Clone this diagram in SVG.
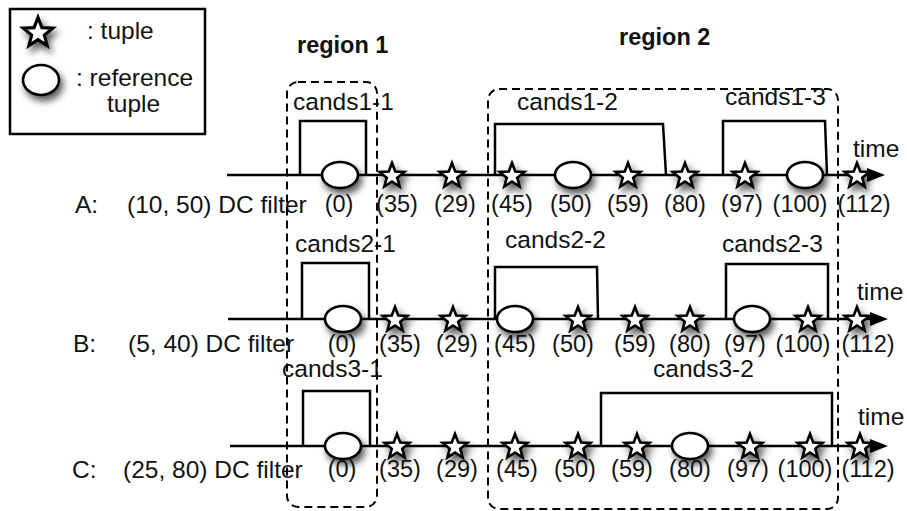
<svg xmlns="http://www.w3.org/2000/svg" width="907" height="511" viewBox="0 0 907 511">
<style>
text{font-family:"Liberation Sans",Arial,Helvetica,sans-serif;fill:#111;}
.lab{font-size:24.5px;}
.num{font-size:23.5px;text-anchor:middle;}
.reg{font-size:23.5px;font-weight:bold;}
.axis{fill:none;stroke:#000;stroke-width:2.5;}
.cand{fill:none;stroke:#000;stroke-width:2.5;stroke-linejoin:miter;}
.region{fill:none;stroke:#000;stroke-width:2;stroke-dasharray:8 5;}
.star{fill:#fff;stroke:#000;stroke-width:2.6;stroke-linejoin:miter;}
.ref{fill:#fff;stroke:#000;stroke-width:2.6;}
.sh{filter:url(#shadow);}
</style>
<defs>
<filter id="shadow" x="-60%" y="-60%" width="220%" height="240%">
<feDropShadow dx="3" dy="5" stdDeviation="3.5" flood-color="#000" flood-opacity="0.65"/>
</filter>
<path id="st" class="star" d="M0,-13 L3.23,-4.45 L12.36,-4.02 L5.23,1.7 L7.64,10.52 L0,5.5 L-7.64,10.52 L-5.23,1.7 L-12.36,-4.02 L-3.23,-4.45 Z"/>
<ellipse id="el" class="ref" cx="0" cy="0" rx="18" ry="13"/>
<marker id="arr" markerUnits="userSpaceOnUse" markerWidth="20" markerHeight="16" refX="10" refY="8" orient="auto">
<path d="M0,1 L18,8 L0,15 Z" fill="#000"/>
</marker>
</defs>
<rect width="907" height="511" fill="#fff"/>

<g id="legend">
<rect x="10" y="9" width="195" height="125" fill="#fff" stroke="#000" stroke-width="2.5"/>
<g class="sh"><use href="#st" transform="translate(38,33) scale(1.2)"/></g>
<text class="lab" x="87" y="39">: tuple</text>
<g class="sh"><ellipse class="ref" cx="41" cy="80" rx="18" ry="15"/></g>
<text class="lab" x="76" y="86">: reference</text>
<text class="lab" x="107" y="112">tuple</text>
</g>

<g id="connectors">
<line class="axis" x1="227" y1="175" x2="877" y2="175" marker-end="url(#arr)"/>
<line class="axis" x1="228" y1="319" x2="880" y2="319" marker-end="url(#arr)"/>
<line class="axis" x1="230" y1="446" x2="880" y2="446" marker-end="url(#arr)"/>
</g>

<g id="rowA">
<text class="lab" x="75" y="213">A:</text>
<text class="lab" x="127" y="213">(10, 50) DC filter</text>
<g id="cands1-1"><path class="cand" d="M300,175 V121 H366 V175"/><text class="lab" x="293" y="110">cands1-1</text></g>
<g id="cands1-2"><path class="cand" d="M495,175 V124 H663 L666,175"/><text class="lab" x="517" y="110">cands1-2</text></g>
<g id="cands1-3"><path class="cand" d="M723,175 V121 H825 L827,175"/><text class="lab" x="725" y="105">cands1-3</text></g>
<text class="lab" x="853" y="157">time</text>
<g class="sh">
<use href="#el" x="340" y="175"/>
<use href="#st" x="392" y="176"/>
<use href="#st" x="452" y="176"/>
<use href="#st" x="512" y="176"/>
<use href="#el" x="573" y="175"/>
<use href="#st" x="628" y="176"/>
<use href="#st" x="685" y="176"/>
<use href="#st" x="745" y="176"/>
<use href="#el" x="805" y="175"/>
<use href="#st" x="857" y="176"/>
</g>
<text class="num" x="339" y="212">(0)</text>
<text class="num" x="397" y="212">(35)</text>
<text class="num" x="455" y="212">(29)</text>
<text class="num" x="512" y="212">(45)</text>
<text class="num" x="571" y="212">(50)</text>
<text class="num" x="628" y="212">(59)</text>
<text class="num" x="685" y="212">(80)</text>
<text class="num" x="742" y="212">(97)</text>
<text class="num" x="800" y="212">(100)</text>
<text class="num" x="864" y="212">(112)</text>
</g>

<g id="rowB">
<text class="lab" x="73" y="352">B:</text>
<text class="lab" x="128" y="352">(5, 40) DC filter</text>
<g id="cands2-1"><path class="cand" d="M302,319 V263 H369 V319"/><text class="lab" x="295" y="252">cands2-1</text></g>
<g id="cands2-2"><path class="cand" d="M495,319 V267 H597 L598,319"/><text class="lab" x="505" y="248">cands2-2</text></g>
<g id="cands2-3"><path class="cand" d="M726,319 V264 H828 V319"/><text class="lab" x="722" y="252">cands2-3</text></g>
<text class="lab" x="857" y="300">time</text>
<g class="sh">
<use href="#el" x="343" y="319"/>
<use href="#st" x="395" y="320"/>
<use href="#st" x="453" y="320"/>
<use href="#el" x="515" y="319"/>
<use href="#st" x="578" y="320"/>
<use href="#st" x="635" y="320"/>
<use href="#st" x="690" y="320"/>
<use href="#el" x="752" y="319"/>
<use href="#st" x="808" y="320"/>
<use href="#st" x="857" y="320"/>
</g>
<text class="num" x="342" y="352">(0)</text>
<text class="num" x="400" y="352">(35)</text>
<text class="num" x="457" y="352">(29)</text>
<text class="num" x="515" y="352">(45)</text>
<text class="num" x="573" y="352">(50)</text>
<text class="num" x="635" y="352">(59)</text>
<text class="num" x="690" y="352">(80)</text>
<text class="num" x="745" y="352">(97)</text>
<text class="num" x="803" y="352">(100)</text>
<text class="num" x="868" y="352">(112)</text>
</g>

<g id="rowC">
<text class="lab" x="72" y="478">C:</text>
<text class="lab" x="123" y="478">(25, 80) DC filter</text>
<g id="cands3-1"><path class="cand" d="M303,446 V391 H370 V446"/><text class="lab" x="282" y="377">cands3-1</text></g>
<g id="cands3-2"><path class="cand" d="M601,446 V393 H832 V446"/><text class="lab" x="653" y="377">cands3-2</text></g>
<text class="lab" x="858" y="425">time</text>
<g class="sh">
<use href="#el" x="343" y="446"/>
<use href="#st" x="397" y="447"/>
<use href="#st" x="455" y="447"/>
<use href="#st" x="515" y="447"/>
<use href="#st" x="578" y="447"/>
<use href="#st" x="637" y="447"/>
<use href="#el" x="690" y="446"/>
<use href="#st" x="750" y="447"/>
<use href="#st" x="810" y="447"/>
<use href="#st" x="860" y="447"/>
</g>
<text class="num" x="342" y="477">(0)</text>
<text class="num" x="400" y="477">(35)</text>
<text class="num" x="457" y="477">(29)</text>
<text class="num" x="517" y="477">(45)</text>
<text class="num" x="575" y="477">(50)</text>
<text class="num" x="632" y="477">(59)</text>
<text class="num" x="690" y="477">(80)</text>
<text class="num" x="748" y="477">(97)</text>
<text class="num" x="805" y="477">(100)</text>
<text class="num" x="868" y="477">(112)</text>
</g>

<g id="region1">
<rect class="region" x="287" y="82" width="90" height="425" rx="11"/>
<text class="reg" x="297" y="53">region 1</text>
</g>
<g id="region2">
<rect class="region" x="488" y="89" width="350" height="420" rx="11"/>
<text class="reg" x="619" y="45">region 2</text>
</g>
</svg>
